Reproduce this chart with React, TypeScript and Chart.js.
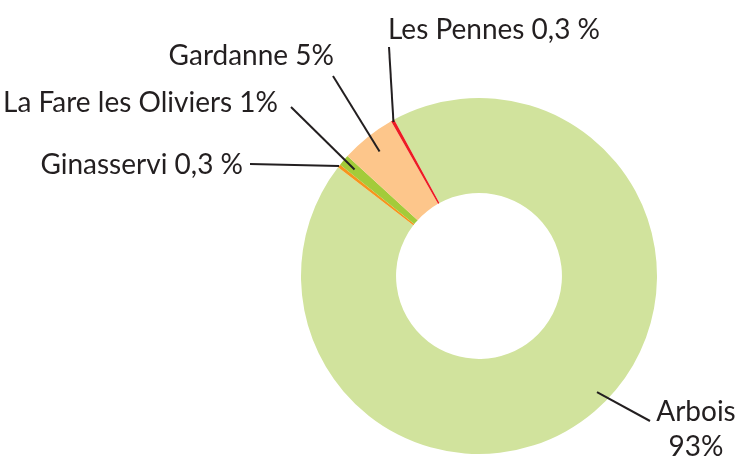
import React, { useEffect, useRef } from "react";
import { Chart, registerables } from "chart.js";

Chart.register(...registerables);

const categories = ["Arbois", "Ginasservi", "La Fare les Oliviers", "Gardanne", "Les Pennes"];
const values = [93, 0.3, 1, 5, 0.3];
const valueLabels = ["93%", "0,3 %", "1%", "5%", "0,3 %"];
const colors = ["#d1e39d", "#f7941d", "#a3cb3a", "#fdc68b", "#ed1c24"];

// label layout (positions only)
type LabelLayout = {
  lines: (name: string, value: string) => string[];
  x: number;
  baselines: number[];
  align: CanvasTextAlign;
  lineStart: [number, number];
  t: number;
  rFrac: number;
};

const labelLayout: LabelLayout[] = [
  { lines: (n, v) => [n, v], x: 696, baselines: [421, 456], align: "center", lineStart: [650, 421], t: 0.485, rFrac: 0.93 },
  { lines: (n, v) => [n + " " + v], x: 243, baselines: [174], align: "right", lineStart: [250, 164], t: 0.5, rFrac: 1.0 },
  { lines: (n, v) => [n + " " + v], x: 278, baselines: [112], align: "right", lineStart: [291, 107], t: 0.5, rFrac: 0.92 },
  { lines: (n, v) => [n + " " + v], x: 334, baselines: [65], align: "right", lineStart: [333, 76], t: 0.5, rFrac: 0.895 },
  { lines: (n, v) => [n + " " + v], x: 388, baselines: [39], align: "left", lineStart: [389, 47], t: 0.5, rFrac: 0.99 },
];

const labelPlugin = {
  id: "leaderLabels",
  afterDraw(chart: any) {
    const ctx = chart.ctx as CanvasRenderingContext2D;
    const meta = chart.getDatasetMeta(0);
    ctx.save();
    ctx.font = "28px Lato";
    ctx.fillStyle = "#231f20";
    ctx.strokeStyle = "#231f20";
    ctx.lineWidth = 2;
    meta.data.forEach((arc: any, i: number) => {
      const L = labelLayout[i];
      const p = arc.getProps(["x", "y", "startAngle", "endAngle", "outerRadius"], true);
      const a = p.startAngle + L.t * (p.endAngle - p.startAngle);
      const r = p.outerRadius * L.rFrac;
      const ex = p.x + Math.cos(a) * r;
      const ey = p.y + Math.sin(a) * r;
      ctx.beginPath();
      ctx.moveTo(L.lineStart[0], L.lineStart[1]);
      ctx.lineTo(ex, ey);
      ctx.stroke();
      ctx.textAlign = L.align;
      ctx.textBaseline = "alphabetic";
      const lines = L.lines(categories[i], valueLabels[i]);
      lines.forEach((s, k) => ctx.fillText(s, L.x, L.baselines[k]));
    });
    ctx.restore();
  },
};

export default function App() {
  const ref = useRef<HTMLCanvasElement | null>(null);
  useEffect(() => {
    document.body.style.margin = "0";
    if (!ref.current) return;
    const chart = new Chart(ref.current, {
      type: "doughnut",
      data: {
        labels: categories,
        datasets: [
          {
            data: values,
            backgroundColor: colors,
            borderWidth: 0,
          },
        ],
      },
      options: {
        animation: false,
        responsive: false,
        devicePixelRatio: 1,
        rotation: -28.5,
        cutout: "46.6%",
        layout: { padding: { left: 301, right: 83, top: 98, bottom: 3 } },
        plugins: { legend: { display: false }, tooltip: { enabled: false } },
      },
      plugins: [labelPlugin],
    });
    return () => chart.destroy();
  }, []);
  return (
    <div style={{ position: "absolute", left: 0, top: 0, width: 740, height: 457, background: "#fff" }}>
      <canvas ref={ref} width={740} height={457} />
    </div>
  );
}
